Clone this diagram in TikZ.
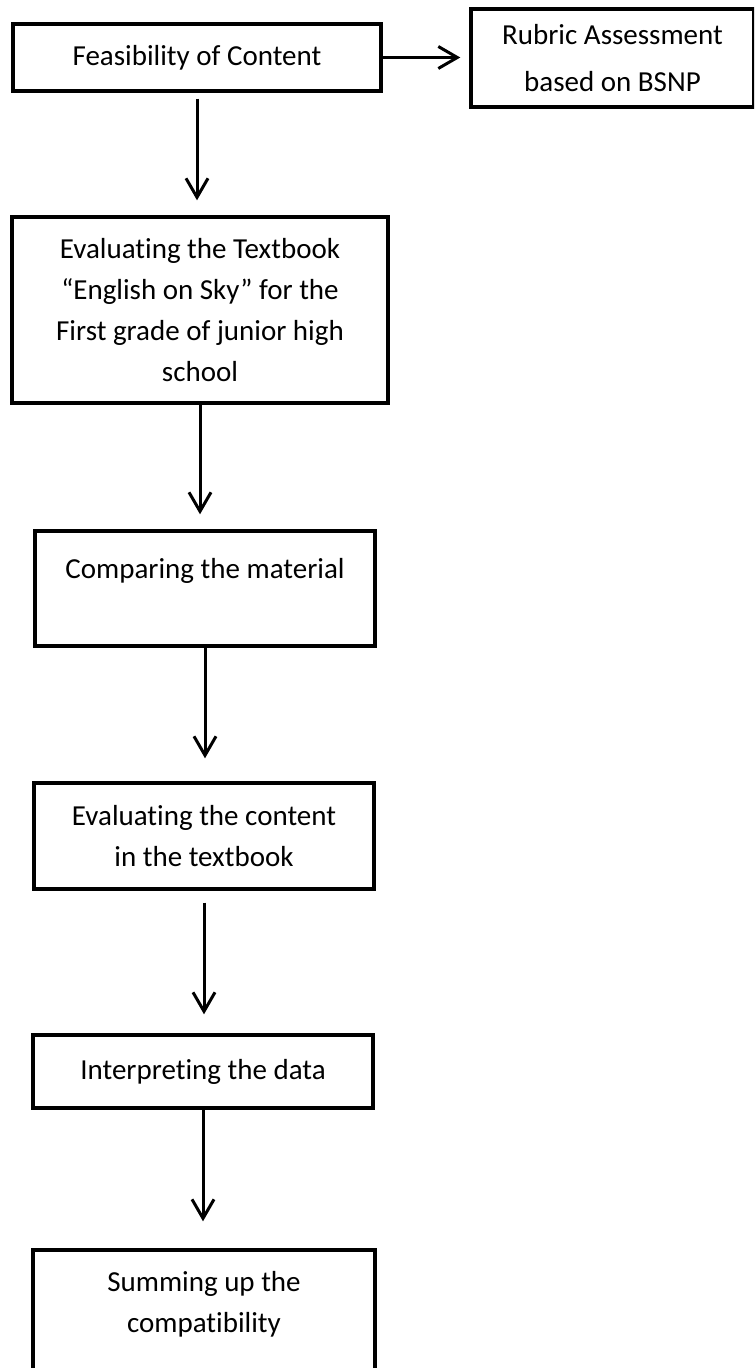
\documentclass[tikz,border=0pt]{standalone}
\usepackage{fontspec}
\setmainfont{Carlito}[RawFeature={-liga;-clig;-calt;-dlig}]
\usetikzlibrary{arrows.meta}
\begin{document}
\begin{tikzpicture}[x=0.5pt,y=-0.5pt,
  box/.style={draw, line width=1.7pt, inner sep=0pt, align=center,
    font=\fontsize{14.5}{20.5}\selectfont},
  arr/.style={line width=1.5pt,
    -{Straight Barb[length=9.5pt,width=11pt,line width=1.5pt]}}]
\useasboundingbox (0,0) rectangle (754,1368);
\clip (0,0) rectangle (754,1368);
\node[box, minimum width=184pt, minimum height=33.5pt] (b1) at (197,57.5) {Feasibility of Content};
\node[box, minimum width=141.5pt, minimum height=49pt,
  font=\fontsize{14.5}{23.5}\selectfont] (b2) at (612.5,58) {Rubric Assessment\\based on BSNP};
\node[box, minimum width=188pt, minimum height=93pt] (b3) at (200,310)
  {Evaluating the Textbook\\“English on Sky” for the\\First grade of junior high\\school};
\node[box, minimum width=170pt, minimum height=57.5pt] (b4) at (205,588.5) {Comparing the material\\~};
\node[box, minimum width=170pt, minimum height=53pt] (b5) at (204,836) {Evaluating the content\\in the textbook};
\node[box, minimum width=170pt, minimum height=36.5pt] (b6) at (203,1071.5) {Interpreting the data};
\node[box, minimum width=171pt, minimum height=72pt] (b7) at (204,1322) {Summing up the\\compatibility\\~};
\draw[arr, shorten <=3pt, shorten >=7.5pt] (b1.south) -- (b1.south |- b3.north);
\draw[arr, shorten >=4.5pt] (b1.east) -- (b1.east -| b2.west);
\draw[arr, shorten >=7.5pt] (b3.south) -- (b3.south |- b4.north);
\draw[arr, shorten >=11.5pt] (b4.south) -- (b4.south |- b5.north);
\draw[arr, shorten <=6pt, shorten >=9.5pt] (b5.south) -- (b5.south |- b6.north);
\draw[arr, shorten >=13.5pt] (b6.south) -- (b6.south |- b7.north);
\end{tikzpicture}
\end{document}
